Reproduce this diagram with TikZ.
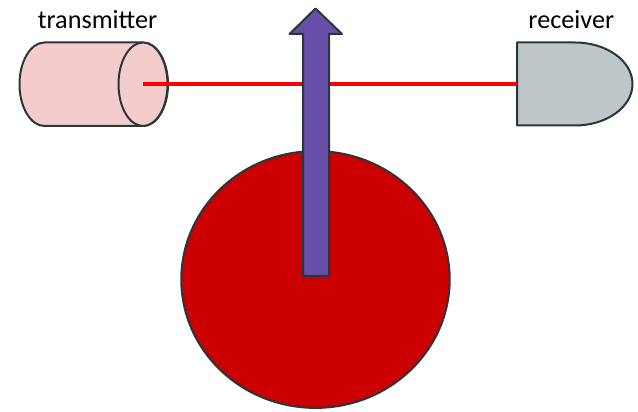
\documentclass[tikz,border=0pt]{standalone}
\usepackage{fontspec}
\setmainfont{Carlito}
\definecolor{edge}{HTML}{2B363C}
\definecolor{txfill}{HTML}{F4CCCC}
\definecolor{rxfill}{HTML}{BDC6C9}
\definecolor{discfill}{HTML}{CC0000}
\definecolor{arrowfill}{HTML}{674EA7}
\tikzset{x=1pt,y=1pt,
 outline/.style={draw=edge,line width=2pt,line join=round},
 lbl/.style={inner sep=0pt,anchor=base,font=\fontsize{26.2pt}{30pt}\selectfont,text=black}}
\begin{document}
\begin{tikzpicture}
\useasboundingbox (0,0) rectangle (638,412);
% transmitter
\draw[outline,fill=txfill] (143,369.5) -- (44.5,369.5) arc[start angle=90,end angle=270,x radius=25,y radius=41.75] -- (143,286) arc[start angle=-90,end angle=90,x radius=25,y radius=41.75];
\draw[outline,fill=txfill] (143,327.75) ellipse[x radius=24.5,y radius=41.75];
\coordinate (emit) at (143,328);
% receiver
\draw[outline,fill=rxfill] (517,369.5) -- (575,369.5) arc[start angle=90,end angle=-90,x radius=57.5,y radius=41.5] -- (517,286.5) -- cycle;
\coordinate (rx) at (517,328);
% beam
\draw[red,line width=3.2pt] (emit) -- (rx);
% disc
\draw[outline,fill=discfill] (315.5,132.5) ellipse[x radius=134.2,y radius=128.4];
% arrow
\draw[outline,fill=arrowfill] (303,136) -- (303,378) -- (289.5,378) -- (315.5,403.5) -- (342,378) -- (329,378) -- (329,136) -- cycle;
% labels
\node[lbl] (tx) at (97.5,383) {transmitter};
\node[lbl] (rc) at (571.3,383) {receiver};
\end{tikzpicture}
\end{document}
